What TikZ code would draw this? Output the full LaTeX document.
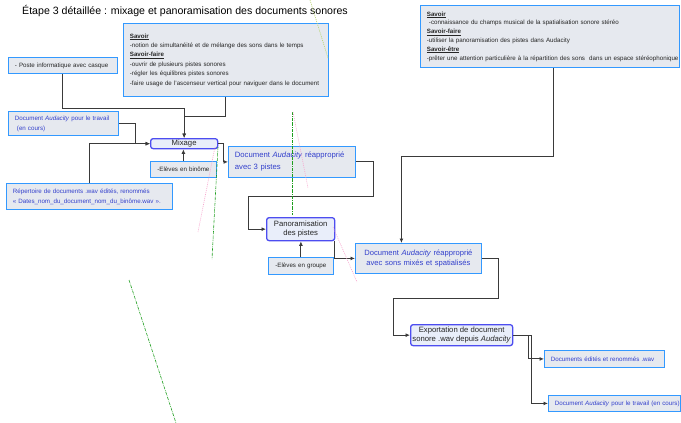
\documentclass[tikz,border=0pt]{standalone}
\usepackage{fontspec}
\setmainfont{Liberation Sans}
\usetikzlibrary{arrows.meta,calc}
\definecolor{cadrebleu}{HTML}{3399FF}
\definecolor{fondgris}{HTML}{E6E9EF}
\definecolor{tachebleu}{HTML}{4D4DF0}
\definecolor{tachefond}{HTML}{E9EEFA}
\definecolor{textebleu}{HTML}{3340CC}
\definecolor{liengris}{HTML}{3A3A3A}
\definecolor{vertpointe}{HTML}{1E9E1E}
\definecolor{vertclair}{HTML}{B5D36A}
\definecolor{rosepointe}{HTML}{F7A8CF}
\newcommand{\petit}{\fontsize{6.2}{9.4}\selectfont}
\newcommand{\serre}{\fontsize{6.2}{8.8}\selectfont}
\newcommand{\moyen}{\fontsize{7.7}{9.5}\selectfont}
\newcommand{\grand}{\fontsize{7.7}{12}\selectfont}
\tikzset{
  >={Latex[length=4.5pt,width=4pt]},
  % boîtes
  boite/.style={draw=cadrebleu,fill=fondgris,line width=0.8pt,anchor=north west,
    inner xsep=6.5pt,inner ysep=2pt,align=left,font=\petit,text=black!85},
  doc/.style={boite,text=textebleu},
  tache/.style={draw=tachebleu,fill=tachefond,line width=1.3pt,rounded corners=2.5pt,
    anchor=north west,inner sep=1pt,align=center,font=\moyen,text=black!85},
  % liens
  lien/.style={->,draw=liengris,line width=0.9pt},
  trace/.style={line width=0.6pt},
}
\begin{document}
\begin{tikzpicture}[x=1pt,y=-1pt]
  \useasboundingbox (0,0) rectangle (681,423);
  \node[anchor=west,font=\fontsize{10.6}{12}\selectfont,inner sep=0pt] (titre) at (22,11)
    {Étape 3 détaillée : mixage et panoramisation des documents sonores};
  % compétences
  \node[boite,text width=192pt,minimum height=73pt] (savoirA) at (123,23)
    {\underline{\textbf{Savoir}}\\
     -notion de simultanéité et de mélange des sons dans le temps\\
     \underline{\textbf{Savoir-faire}}\\
     -ouvrir de plusieurs pistes sonores\\
     -régler les équilibres pistes sonores\\
     \mbox{-faire usage de l'ascenseur vertical pour naviguer dans le document}};
  \node[boite,font=\serre,text width=246pt,minimum height=62pt] (savoirB) at (420,5)
    {\underline{\textbf{Savoir}}\\
     \ -connaissance du champs musical de la spatialisation sonore stéréo\\
     \underline{\textbf{Savoir-faire}}\\
     -utiliser la panoramisation des pistes dans Audacity\\
     \underline{\textbf{Savoir-être}}\\
     \mbox{-prêter une attention particulière à la répartition des sons\ \ dans un espace stéréophonique}};
  % ressources
  \node[boite,text width=96pt,minimum height=16pt] (poste) at (8,57)
    {- Poste informatique avec casque};
  \node[doc,font=\fontsize{6.2}{10}\selectfont,text width=97pt,minimum height=24pt] (docT) at (8,111)
    {Document \textit{Audacity} pour le travail\\\ (en cours)};
  \node[doc,font=\fontsize{6.2}{10}\selectfont,text width=153pt,minimum height=26pt] (repert) at (6,183)
    {Répertoire de documents .wav édités, renommés\\
     \mbox{« Dates\_nom\_du\_document\_nom\_du\_binôme.wav ».}};
  % tâches
  \node[tache,minimum width=67pt,minimum height=10pt] (mixage) at (150,138) {Mixage};
  \node[boite,align=center,text width=53pt,minimum height=16pt] (binome) at (150,161)
    {-Elèves en binôme};
  \node[doc,font=\grand,text width=114pt,minimum height=31pt] (doc3) at (228,146)
    {Document \textit{Audacity} réapproprié\\avec 3 pistes};
  \node[tache,minimum width=68pt,minimum height=23pt] (pano) at (266,217)
    {Panoramisation\\des pistes};
  \node[boite,align=center,text width=52pt,minimum height=17pt] (groupe) at (268,257)
    {-Elèves en groupe};
  \node[doc,font=\fontsize{7.6}{10.5}\selectfont,align=center,text width=113pt,minimum height=30pt] (docMix) at (355,243)
    {Document \textit{Audacity} réapproprié\\avec sons mixés et spatialisés};
  \node[tache,minimum width=102pt,minimum height=21pt] (export) at (410,324)
    {Exportation de document\\sonore .wav depuis \textit{Audacity}};
  \node[doc,text width=107pt,minimum height=17pt] (edites) at (544,350)
    {Documents édités et renommés .wav};
  \node[doc,text width=119pt,minimum height=16pt] (travail) at (548,395)
    {\mbox{Document \textit{Audacity} pour le travail (en cours)}};
  % liens
  \draw[lien] (poste.south) -- ++(0,35) -| (mixage.north);
  \draw[lien] (savoirA.south) -- ++(0,20) -| (mixage.north);
  \draw[lien] (docT.east) -- ++(17,0) |- (mixage.west);
  \draw[lien] (repert.north) |- (mixage.west);
  \draw[lien] (binome.north) -- (binome.north |- mixage.south);
  \draw[lien] (mixage.east) -- ++(5,0) |- (doc3.west);
  \draw[lien] (doc3.east) -- ++(18,0) |- (248,196) |- (pano.west);
  \draw[lien] ([xshift=4pt]savoirB.south) -- ++(0,89) -| ([xshift=-17pt]docMix.north);
  \draw[lien] ([xshift=-1pt]pano.south east) |- (docMix.west);
  \draw[lien] (groupe.north) -- (groupe.north |- pano.south);
  \draw[lien] (docMix.east) -- ++(17,0) |- (393,298) |- (export.west);
  \draw[lien] (export.east) -- ++(15,0) |- (edites.west);
  \draw[lien] (export.east) -- ++(18,0) |- (travail.west);
  % traits parasites
  \draw[trace,vertclair,dash pattern=on 1pt off 1pt] (310,0) -- (328,58);
  \draw[trace,vertpointe,dash pattern=on 3pt off 1pt on 0.6pt off 1pt] (292,112) -- (292,215);
  \draw[trace,vertpointe,dash pattern=on 3pt off 1pt on 0.6pt off 1pt] (218,147) -- (212,259);
  \draw[trace,vertpointe,dash pattern=on 3pt off 1pt on 0.6pt off 1pt] (129,280) -- (176,423);
  \draw[trace,rosepointe,dash pattern=on 1pt off 1pt] (215,147) -- (198,232);
  \draw[trace,rosepointe,dash pattern=on 1pt off 1pt] (293,112) -- (308,188);
  \draw[trace,rosepointe,dash pattern=on 1pt off 1pt] (333,227) -- (357,282);
\end{tikzpicture}
\end{document}
